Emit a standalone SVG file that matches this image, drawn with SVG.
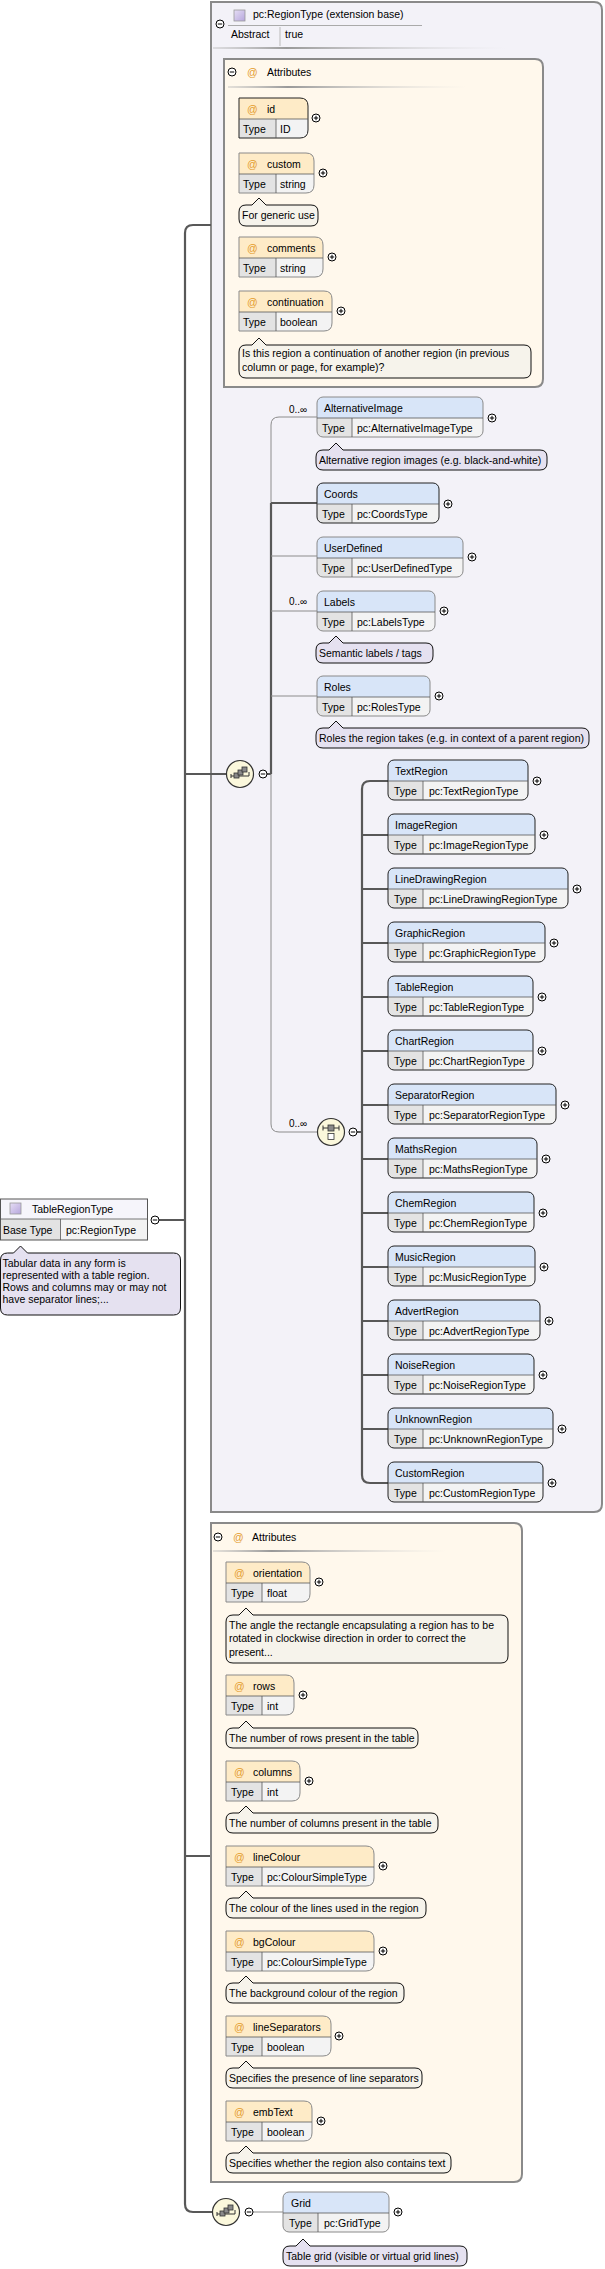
<svg xmlns="http://www.w3.org/2000/svg" width="605" height="2269" viewBox="0 0 605 2269">
<defs>
<linearGradient id="fade" x1="0" x2="1" y1="0" y2="0">
<stop offset="0" stop-color="#bbb" stop-opacity="0.4"/>
<stop offset="0.25" stop-color="#999"/>
<stop offset="1" stop-color="#ddd" stop-opacity="0"/>
</linearGradient>
<linearGradient id="pur" x1="0" x2="1" y1="0" y2="1">
<stop offset="0" stop-color="#e6def5"/>
<stop offset="1" stop-color="#b6a6dc"/>
</linearGradient>
<g id="minus"><circle r="4" fill="#fff" stroke="#000" stroke-width="1"/><path d="M-2.2,0H2.2" stroke="#000" stroke-width="1"/></g>
<g id="plus"><circle r="4" fill="#fff" stroke="#000" stroke-width="1"/><path d="M-2.2,0H2.2M0,-2.2V2.2" stroke="#000" stroke-width="1"/></g>
<g id="seqIcon">
<circle r="13.5" fill="#fbf8dc" stroke="#333" stroke-width="1.2"/>
<path d="M-9,2H9M-9,0V4M9,-2V2" stroke="#333" stroke-width="1" fill="none"/>
<rect x="-6" y="-1" width="5" height="5" fill="#8a8a8a" stroke="#333" stroke-width="0.8"/>
<rect x="-2" y="-4" width="5" height="5" fill="#8a8a8a" stroke="#333" stroke-width="0.8"/>
<rect x="2" y="-7" width="5" height="5" fill="#8a8a8a" stroke="#333" stroke-width="0.8"/>
</g>
<g id="choiceIcon">
<circle r="13.5" fill="#fbf8dc" stroke="#333" stroke-width="1.2"/>
<path d="M-8,-4H8M-8,-6.5V-1.5M8,-6.5V-1.5" stroke="#333" stroke-width="1" fill="none"/>
<rect x="-3" y="-7" width="6" height="6" fill="#8a8a8a" stroke="#333" stroke-width="0.8"/>
<rect x="-3" y="1.5" width="6" height="6" fill="#fff" stroke="#333" stroke-width="0.8"/>
</g>
</defs>
<style>
text{font-family:"Liberation Sans",Arial,sans-serif;font-size:10.5px;fill:#000}
.at{fill:#e49b2c}
.mult{font-size:10px}
.thin{fill:none;stroke:#8c8c8c;stroke-width:1}
.thick{fill:none;stroke:#585858;stroke-width:2.2}
.eh{fill:#d8e5f8}
.th{fill:#f6f5fb}
.tc{fill:#e3e3e3}
.vc{fill:#f3f3f3}
.ah{fill:#feebc7}
.req{fill:none;stroke:#222;stroke-width:1}
.opt{fill:none;stroke:#8a8a8a;stroke-width:1}
.div{fill:none;stroke:#555;stroke-width:0.8}
.ne{fill:#e5e1f0;stroke:#111;stroke-width:1}
.na{fill:#f6f3eb;stroke:#111;stroke-width:1}
.box{stroke:#8a8a8a;stroke-width:2}
</style>

<!-- extension base box -->
<g id="extension">
<path class="box" d="M211,2H594Q602,2 602,10V1504Q602,1512 594,1512H211Z" fill="#f3f2f8"/>
<use href="#minus" x="220" y="24"/>
<rect x="234" y="10" width="11" height="11" fill="url(#pur)" stroke="#999" stroke-width="0.8"/>
<text x="253" y="18">pc:RegionType (extension base)</text>
<path d="M228,25.5H422" stroke="#aaa" stroke-width="1"/>
<text x="231" y="38">Abstract</text>
<path d="M280,27V46" stroke="#bbb" stroke-width="1"/>
<text x="285" y="38">true</text>
<rect x="213" y="47" width="294" height="2" fill="url(#fade)"/>
</g>

<!-- attributes box 1 -->
<g id="attributes1">
<path class="box" d="M224,59H535Q543,59 543,67V379Q543,387 535,387H224Z" fill="#fff8ec"/>
<use href="#minus" x="232" y="72"/>
<text class="at" x="247" y="76">@</text>
<text x="267" y="76">Attributes</text>
<rect x="228" y="86" width="239" height="2" fill="url(#fade)"/>
</g>

<g id="attr-id" transform="translate(239,98)">
<path class="ah" d="M0,0H61Q69,0 69,8V21H0Z"/>
<rect class="tc" x="0" y="21" width="37" height="19"/>
<path class="vc" d="M37,21H69V32Q69,40 61,40H37Z"/>
<path class="req" d="M0,0H61Q69,0 69,8V32Q69,40 61,40H0Z"/>
<path class="div" d="M0,21H69M37,21V40"/>
<text class="at" x="8" y="15">@</text><text x="28" y="15">id</text>
<text x="4" y="35">Type</text><text x="41" y="35">ID</text>
<use href="#plus" x="77" y="20"/>
</g>

<g id="attr-custom" transform="translate(239,153)">
<path class="ah" d="M0,0H67Q75,0 75,8V21H0Z"/>
<rect class="tc" x="0" y="21" width="37" height="19"/>
<path class="vc" d="M37,21H75V32Q75,40 67,40H37Z"/>
<path class="opt" d="M0,0H67Q75,0 75,8V32Q75,40 67,40H0Z"/>
<path class="div" d="M0,21H75M37,21V40"/>
<text class="at" x="8" y="15">@</text><text x="28" y="15">custom</text>
<text x="4" y="35">Type</text><text x="41" y="35">string</text>
<use href="#plus" x="84" y="20"/>
<g transform="translate(0,52)">
<path class="na" d="M7,0H13L20,-7L27,0H72Q79,0 79,7V14Q79,21 72,21H7Q0,21 0,14V7Q0,0 7,0Z"/>
<text x="3" y="14">For generic use</text>
</g>
</g>

<g id="attr-comments" transform="translate(239,237)">
<path class="ah" d="M0,0H76Q84,0 84,8V21H0Z"/>
<rect class="tc" x="0" y="21" width="37" height="19"/>
<path class="vc" d="M37,21H84V32Q84,40 76,40H37Z"/>
<path class="opt" d="M0,0H76Q84,0 84,8V32Q84,40 76,40H0Z"/>
<path class="div" d="M0,21H84M37,21V40"/>
<text class="at" x="8" y="15">@</text><text x="28" y="15">comments</text>
<text x="4" y="35">Type</text><text x="41" y="35">string</text>
<use href="#plus" x="93" y="20"/>
</g>

<g id="attr-continuation" transform="translate(239,291)">
<path class="ah" d="M0,0H85Q93,0 93,8V21H0Z"/>
<rect class="tc" x="0" y="21" width="37" height="19"/>
<path class="vc" d="M37,21H93V32Q93,40 85,40H37Z"/>
<path class="opt" d="M0,0H85Q93,0 93,8V32Q93,40 85,40H0Z"/>
<path class="div" d="M0,21H93M37,21V40"/>
<text class="at" x="8" y="15">@</text><text x="28" y="15">continuation</text>
<text x="4" y="35">Type</text><text x="41" y="35">boolean</text>
<use href="#plus" x="102" y="20"/>
<g transform="translate(0,54)">
<path class="na" d="M7,0H13L20,-7L27,0H285Q292,0 292,7V26Q292,33 285,33H7Q0,33 0,26V7Q0,0 7,0Z"/>
<text x="3" y="12">Is this region a continuation of another region (in previous</text>
<text x="3" y="25.5">column or page, for example)?</text>
</g>
</g>

<!-- connectors -->
<g id="connectors">
<path class="thick" d="M211,225H193Q185,225 185,233V2204Q185,2212 193,2212H212"/>
<path class="thick" d="M159,1220H185M185,774H226M185,1856H211"/>
<path class="thin" d="M317,417H279Q271,417 271,425V503"/>
<path class="thick" d="M271,503V774M267,774H271M271,503H317"/>
<path class="thin" d="M271,774V1124Q271,1132 279,1132H317M271,556H317M271,611H317M271,696H317"/>
<path class="thick" d="M357,1132H362M388,781H370Q362,781 362,789V1475Q362,1483 370,1483H388"/>
<path class="thick" d="M362,835H388M362,889H388M362,943H388M362,997H388M362,1051H388M362,1105H388M362,1159H388M362,1213H388M362,1267H388M362,1321H388M362,1375H388M362,1429H388"/>
<path class="thin" d="M253,2212H283"/>
</g>

<!-- compositors -->
<g id="sequence1"><use href="#seqIcon" x="240" y="774"/><use href="#minus" x="263" y="774"/></g>
<g id="choice1"><use href="#choiceIcon" x="331" y="1132"/><use href="#minus" x="353" y="1132"/><text class="mult" x="289" y="1127">0..∞</text></g>
<g id="sequence2"><use href="#seqIcon" x="226" y="2212"/><use href="#minus" x="249" y="2212"/></g>

<!-- sequence elements -->
<g id="el-AlternativeImage" transform="translate(317,397)">
<rect class="vc" width="166" height="40" rx="6"/>
<path class="eh" d="M0,21V6Q0,0 6,0H160Q166,0 166,6V21Z"/>
<path class="tc" d="M0,21H35V40H6Q0,40 0,34Z"/>
<rect class="opt" width="166" height="40" rx="6"/>
<path class="div" d="M0,21H166M35,21V40"/>
<text x="7" y="15">AlternativeImage</text><text x="5" y="35">Type</text><text x="40" y="35">pc:AlternativeImageType</text>
<use href="#plus" x="175" y="21"/>
<text class="mult" x="-28" y="16">0..∞</text>
<g transform="translate(-1,53)">
<path class="ne" d="M7,0H13L20,-7L27,0H224Q231,0 231,7V13Q231,20 224,20H7Q0,20 0,13V7Q0,0 7,0Z"/>
<text x="3" y="14">Alternative region images (e.g. black-and-white)</text>
</g>
</g>

<g id="el-Coords" transform="translate(317,483)">
<rect class="vc" width="122" height="40" rx="6"/>
<path class="eh" d="M0,21V6Q0,0 6,0H116Q122,0 122,6V21Z"/>
<path class="tc" d="M0,21H35V40H6Q0,40 0,34Z"/>
<rect class="req" width="122" height="40" rx="6"/>
<path class="div" d="M0,21H122M35,21V40"/>
<text x="7" y="15">Coords</text><text x="5" y="35">Type</text><text x="40" y="35">pc:CoordsType</text>
<use href="#plus" x="131" y="21"/>
</g>

<g id="el-UserDefined" transform="translate(317,537)">
<rect class="vc" width="146" height="40" rx="6"/>
<path class="eh" d="M0,21V6Q0,0 6,0H140Q146,0 146,6V21Z"/>
<path class="tc" d="M0,21H35V40H6Q0,40 0,34Z"/>
<rect class="opt" width="146" height="40" rx="6"/>
<path class="div" d="M0,21H146M35,21V40"/>
<text x="7" y="15">UserDefined</text><text x="5" y="35">Type</text><text x="40" y="35">pc:UserDefinedType</text>
<use href="#plus" x="155" y="20"/>
</g>

<g id="el-Labels" transform="translate(317,591)">
<rect class="vc" width="118" height="40" rx="6"/>
<path class="eh" d="M0,21V6Q0,0 6,0H112Q118,0 118,6V21Z"/>
<path class="tc" d="M0,21H35V40H6Q0,40 0,34Z"/>
<rect class="opt" width="118" height="40" rx="6"/>
<path class="div" d="M0,21H118M35,21V40"/>
<text x="7" y="15">Labels</text><text x="5" y="35">Type</text><text x="40" y="35">pc:LabelsType</text>
<use href="#plus" x="127" y="20"/>
<text class="mult" x="-28" y="14">0..∞</text>
<g transform="translate(-1,52)">
<path class="ne" d="M7,0H13L20,-7L27,0H110Q117,0 117,7V13Q117,20 110,20H7Q0,20 0,13V7Q0,0 7,0Z"/>
<text x="3" y="14">Semantic labels / tags</text>
</g>
</g>

<g id="el-Roles" transform="translate(317,676)">
<rect class="vc" width="113" height="40" rx="6"/>
<path class="eh" d="M0,21V6Q0,0 6,0H107Q113,0 113,6V21Z"/>
<path class="tc" d="M0,21H35V40H6Q0,40 0,34Z"/>
<rect class="opt" width="113" height="40" rx="6"/>
<path class="div" d="M0,21H113M35,21V40"/>
<text x="7" y="15">Roles</text><text x="5" y="35">Type</text><text x="40" y="35">pc:RolesType</text>
<use href="#plus" x="122" y="20"/>
<g transform="translate(-1,52)">
<path class="ne" d="M7,0H13L20,-7L27,0H266Q273,0 273,7V13Q273,20 266,20H7Q0,20 0,13V7Q0,0 7,0Z"/>
<text x="3" y="14">Roles the region takes (e.g. in context of a parent region)</text>
</g>
</g>

<!-- choice elements -->
<g id="el-TextRegion" transform="translate(388,760)">
<rect class="vc" width="140" height="40" rx="6"/>
<path class="eh" d="M0,21V6Q0,0 6,0H134Q140,0 140,6V21Z"/>
<path class="tc" d="M0,21H35V40H6Q0,40 0,34Z"/>
<rect class="req" width="140" height="40" rx="6"/>
<path class="div" d="M0,21H140M35,21V40"/>
<text x="7" y="15">TextRegion</text><text x="6" y="35">Type</text><text x="41" y="35">pc:TextRegionType</text>
<use href="#plus" x="149" y="21"/>
</g>

<g id="el-ImageRegion" transform="translate(388,814)">
<rect class="vc" width="147" height="40" rx="6"/>
<path class="eh" d="M0,21V6Q0,0 6,0H141Q147,0 147,6V21Z"/>
<path class="tc" d="M0,21H35V40H6Q0,40 0,34Z"/>
<rect class="req" width="147" height="40" rx="6"/>
<path class="div" d="M0,21H147M35,21V40"/>
<text x="7" y="15">ImageRegion</text><text x="6" y="35">Type</text><text x="41" y="35">pc:ImageRegionType</text>
<use href="#plus" x="156" y="21"/>
</g>

<g id="el-LineDrawingRegion" transform="translate(388,868)">
<rect class="vc" width="180" height="40" rx="6"/>
<path class="eh" d="M0,21V6Q0,0 6,0H174Q180,0 180,6V21Z"/>
<path class="tc" d="M0,21H35V40H6Q0,40 0,34Z"/>
<rect class="req" width="180" height="40" rx="6"/>
<path class="div" d="M0,21H180M35,21V40"/>
<text x="7" y="15">LineDrawingRegion</text><text x="6" y="35">Type</text><text x="41" y="35">pc:LineDrawingRegionType</text>
<use href="#plus" x="189" y="21"/>
</g>

<g id="el-GraphicRegion" transform="translate(388,922)">
<rect class="vc" width="157" height="40" rx="6"/>
<path class="eh" d="M0,21V6Q0,0 6,0H151Q157,0 157,6V21Z"/>
<path class="tc" d="M0,21H35V40H6Q0,40 0,34Z"/>
<rect class="req" width="157" height="40" rx="6"/>
<path class="div" d="M0,21H157M35,21V40"/>
<text x="7" y="15">GraphicRegion</text><text x="6" y="35">Type</text><text x="41" y="35">pc:GraphicRegionType</text>
<use href="#plus" x="166" y="21"/>
</g>

<g id="el-TableRegion" transform="translate(388,976)">
<rect class="vc" width="145" height="40" rx="6"/>
<path class="eh" d="M0,21V6Q0,0 6,0H139Q145,0 145,6V21Z"/>
<path class="tc" d="M0,21H35V40H6Q0,40 0,34Z"/>
<rect class="req" width="145" height="40" rx="6"/>
<path class="div" d="M0,21H145M35,21V40"/>
<text x="7" y="15">TableRegion</text><text x="6" y="35">Type</text><text x="41" y="35">pc:TableRegionType</text>
<use href="#plus" x="154" y="21"/>
</g>

<g id="el-ChartRegion" transform="translate(388,1030)">
<rect class="vc" width="145" height="40" rx="6"/>
<path class="eh" d="M0,21V6Q0,0 6,0H139Q145,0 145,6V21Z"/>
<path class="tc" d="M0,21H35V40H6Q0,40 0,34Z"/>
<rect class="req" width="145" height="40" rx="6"/>
<path class="div" d="M0,21H145M35,21V40"/>
<text x="7" y="15">ChartRegion</text><text x="6" y="35">Type</text><text x="41" y="35">pc:ChartRegionType</text>
<use href="#plus" x="154" y="21"/>
</g>

<g id="el-SeparatorRegion" transform="translate(388,1084)">
<rect class="vc" width="168" height="40" rx="6"/>
<path class="eh" d="M0,21V6Q0,0 6,0H162Q168,0 168,6V21Z"/>
<path class="tc" d="M0,21H35V40H6Q0,40 0,34Z"/>
<rect class="req" width="168" height="40" rx="6"/>
<path class="div" d="M0,21H168M35,21V40"/>
<text x="7" y="15">SeparatorRegion</text><text x="6" y="35">Type</text><text x="41" y="35">pc:SeparatorRegionType</text>
<use href="#plus" x="177" y="21"/>
</g>

<g id="el-MathsRegion" transform="translate(388,1138)">
<rect class="vc" width="149" height="40" rx="6"/>
<path class="eh" d="M0,21V6Q0,0 6,0H143Q149,0 149,6V21Z"/>
<path class="tc" d="M0,21H35V40H6Q0,40 0,34Z"/>
<rect class="req" width="149" height="40" rx="6"/>
<path class="div" d="M0,21H149M35,21V40"/>
<text x="7" y="15">MathsRegion</text><text x="6" y="35">Type</text><text x="41" y="35">pc:MathsRegionType</text>
<use href="#plus" x="158" y="21"/>
</g>

<g id="el-ChemRegion" transform="translate(388,1192)">
<rect class="vc" width="146" height="40" rx="6"/>
<path class="eh" d="M0,21V6Q0,0 6,0H140Q146,0 146,6V21Z"/>
<path class="tc" d="M0,21H35V40H6Q0,40 0,34Z"/>
<rect class="req" width="146" height="40" rx="6"/>
<path class="div" d="M0,21H146M35,21V40"/>
<text x="7" y="15">ChemRegion</text><text x="6" y="35">Type</text><text x="41" y="35">pc:ChemRegionType</text>
<use href="#plus" x="155" y="21"/>
</g>

<g id="el-MusicRegion" transform="translate(388,1246)">
<rect class="vc" width="147" height="40" rx="6"/>
<path class="eh" d="M0,21V6Q0,0 6,0H141Q147,0 147,6V21Z"/>
<path class="tc" d="M0,21H35V40H6Q0,40 0,34Z"/>
<rect class="req" width="147" height="40" rx="6"/>
<path class="div" d="M0,21H147M35,21V40"/>
<text x="7" y="15">MusicRegion</text><text x="6" y="35">Type</text><text x="41" y="35">pc:MusicRegionType</text>
<use href="#plus" x="156" y="21"/>
</g>

<g id="el-AdvertRegion" transform="translate(388,1300)">
<rect class="vc" width="152" height="40" rx="6"/>
<path class="eh" d="M0,21V6Q0,0 6,0H146Q152,0 152,6V21Z"/>
<path class="tc" d="M0,21H35V40H6Q0,40 0,34Z"/>
<rect class="req" width="152" height="40" rx="6"/>
<path class="div" d="M0,21H152M35,21V40"/>
<text x="7" y="15">AdvertRegion</text><text x="6" y="35">Type</text><text x="41" y="35">pc:AdvertRegionType</text>
<use href="#plus" x="161" y="21"/>
</g>

<g id="el-NoiseRegion" transform="translate(388,1354)">
<rect class="vc" width="146" height="40" rx="6"/>
<path class="eh" d="M0,21V6Q0,0 6,0H140Q146,0 146,6V21Z"/>
<path class="tc" d="M0,21H35V40H6Q0,40 0,34Z"/>
<rect class="req" width="146" height="40" rx="6"/>
<path class="div" d="M0,21H146M35,21V40"/>
<text x="7" y="15">NoiseRegion</text><text x="6" y="35">Type</text><text x="41" y="35">pc:NoiseRegionType</text>
<use href="#plus" x="155" y="21"/>
</g>

<g id="el-UnknownRegion" transform="translate(388,1408)">
<rect class="vc" width="165" height="40" rx="6"/>
<path class="eh" d="M0,21V6Q0,0 6,0H159Q165,0 165,6V21Z"/>
<path class="tc" d="M0,21H35V40H6Q0,40 0,34Z"/>
<rect class="req" width="165" height="40" rx="6"/>
<path class="div" d="M0,21H165M35,21V40"/>
<text x="7" y="15">UnknownRegion</text><text x="6" y="35">Type</text><text x="41" y="35">pc:UnknownRegionType</text>
<use href="#plus" x="174" y="21"/>
</g>

<g id="el-CustomRegion" transform="translate(388,1462)">
<rect class="vc" width="155" height="40" rx="6"/>
<path class="eh" d="M0,21V6Q0,0 6,0H149Q155,0 155,6V21Z"/>
<path class="tc" d="M0,21H35V40H6Q0,40 0,34Z"/>
<rect class="req" width="155" height="40" rx="6"/>
<path class="div" d="M0,21H155M35,21V40"/>
<text x="7" y="15">CustomRegion</text><text x="6" y="35">Type</text><text x="41" y="35">pc:CustomRegionType</text>
<use href="#plus" x="164" y="21"/>
</g>

<!-- TableRegionType root -->
<g id="TableRegionType" transform="translate(0,1199)">
<rect class="th" x="0.5" y="0" width="147" height="20"/>
<rect class="tc" x="0.5" y="20" width="60" height="21"/>
<rect class="vc" x="60.5" y="20" width="87" height="21"/>
<rect x="0.5" y="0" width="147" height="41" fill="none" stroke="#555" stroke-width="1"/>
<path class="div" d="M0,20H147.5M60.5,20V41"/>
<rect x="10" y="4" width="11" height="11" fill="url(#pur)" stroke="#999" stroke-width="0.8"/>
<text x="32" y="14">TableRegionType</text>
<text x="3" y="35">Base Type</text><text x="66" y="35">pc:RegionType</text>
<use href="#minus" x="155" y="21"/>
<g transform="translate(0.5,54)">
<path class="ne" d="M7,0H13L20,-7L27,0H173Q180,0 180,7V55Q180,62 173,62H7Q0,62 0,55V7Q0,0 7,0Z"/>
<text x="2" y="14">Tabular data in any form is</text>
<text x="2" y="26">represented with a table region.</text>
<text x="2" y="38">Rows and columns may or may not</text>
<text x="2" y="50">have separator lines;...</text>
</g>
</g>

<!-- attributes box 2 -->
<g id="attributes2">
<path class="box" d="M211,1523H514Q522,1523 522,1531V2174Q522,2182 514,2182H211Z" fill="#fff8ec"/>
<use href="#minus" x="218" y="1537"/>
<text class="at" x="233" y="1541">@</text>
<text x="252" y="1541">Attributes</text>
<rect x="213" y="1550" width="234" height="2" fill="url(#fade)"/>
</g>

<g id="attr-orientation" transform="translate(226,1562)">
<path class="ah" d="M0,0H76Q84,0 84,8V21H0Z"/>
<rect class="tc" x="0" y="21" width="36" height="19"/>
<path class="vc" d="M36,21H84V32Q84,40 76,40H36Z"/>
<path class="opt" d="M0,0H76Q84,0 84,8V32Q84,40 76,40H0Z"/>
<path class="div" d="M0,21H84M36,21V40"/>
<text class="at" x="8" y="15">@</text><text x="27" y="15">orientation</text>
<text x="5" y="35">Type</text><text x="41" y="35">float</text>
<use href="#plus" x="93" y="20"/>
<g transform="translate(0,53)">
<path class="na" d="M7,0H13L20,-7L27,0H275Q282,0 282,7V41Q282,48 275,48H7Q0,48 0,41V7Q0,0 7,0Z"/>
<text x="3" y="14">The angle the rectangle encapsulating a region has to be</text>
<text x="3" y="27">rotated in clockwise direction in order to correct the</text>
<text x="3" y="40.5">present...</text>
</g>
</g>

<g id="attr-rows" transform="translate(226,1675)">
<path class="ah" d="M0,0H60Q68,0 68,8V21H0Z"/>
<rect class="tc" x="0" y="21" width="36" height="19"/>
<path class="vc" d="M36,21H68V32Q68,40 60,40H36Z"/>
<path class="opt" d="M0,0H60Q68,0 68,8V32Q68,40 60,40H0Z"/>
<path class="div" d="M0,21H68M36,21V40"/>
<text class="at" x="8" y="15">@</text><text x="27" y="15">rows</text>
<text x="5" y="35">Type</text><text x="41" y="35">int</text>
<use href="#plus" x="77" y="20"/>
<g transform="translate(0,53)">
<path class="na" d="M7,0H13L20,-7L27,0H185Q192,0 192,7V13Q192,20 185,20H7Q0,20 0,13V7Q0,0 7,0Z"/>
<text x="3" y="14">The number of rows present in the table</text>
</g>
</g>

<g id="attr-columns" transform="translate(226,1761)">
<path class="ah" d="M0,0H66Q74,0 74,8V21H0Z"/>
<rect class="tc" x="0" y="21" width="36" height="19"/>
<path class="vc" d="M36,21H74V32Q74,40 66,40H36Z"/>
<path class="opt" d="M0,0H66Q74,0 74,8V32Q74,40 66,40H0Z"/>
<path class="div" d="M0,21H74M36,21V40"/>
<text class="at" x="8" y="15">@</text><text x="27" y="15">columns</text>
<text x="5" y="35">Type</text><text x="41" y="35">int</text>
<use href="#plus" x="83" y="20"/>
<g transform="translate(0,52)">
<path class="na" d="M7,0H13L20,-7L27,0H205Q212,0 212,7V13Q212,20 205,20H7Q0,20 0,13V7Q0,0 7,0Z"/>
<text x="3" y="14">The number of columns present in the table</text>
</g>
</g>

<g id="attr-lineColour" transform="translate(226,1846)">
<path class="ah" d="M0,0H140Q148,0 148,8V21H0Z"/>
<rect class="tc" x="0" y="21" width="36" height="19"/>
<path class="vc" d="M36,21H148V32Q148,40 140,40H36Z"/>
<path class="opt" d="M0,0H140Q148,0 148,8V32Q148,40 140,40H0Z"/>
<path class="div" d="M0,21H148M36,21V40"/>
<text class="at" x="8" y="15">@</text><text x="27" y="15">lineColour</text>
<text x="5" y="35">Type</text><text x="41" y="35">pc:ColourSimpleType</text>
<use href="#plus" x="157" y="20"/>
<g transform="translate(0,52)">
<path class="na" d="M7,0H13L20,-7L27,0H193Q200,0 200,7V13Q200,20 193,20H7Q0,20 0,13V7Q0,0 7,0Z"/>
<text x="3" y="14">The colour of the lines used in the region</text>
</g>
</g>

<g id="attr-bgColour" transform="translate(226,1931)">
<path class="ah" d="M0,0H140Q148,0 148,8V21H0Z"/>
<rect class="tc" x="0" y="21" width="36" height="19"/>
<path class="vc" d="M36,21H148V32Q148,40 140,40H36Z"/>
<path class="opt" d="M0,0H140Q148,0 148,8V32Q148,40 140,40H0Z"/>
<path class="div" d="M0,21H148M36,21V40"/>
<text class="at" x="8" y="15">@</text><text x="27" y="15">bgColour</text>
<text x="5" y="35">Type</text><text x="41" y="35">pc:ColourSimpleType</text>
<use href="#plus" x="157" y="20"/>
<g transform="translate(0,52)">
<path class="na" d="M7,0H13L20,-7L27,0H171Q178,0 178,7V13Q178,20 171,20H7Q0,20 0,13V7Q0,0 7,0Z"/>
<text x="3" y="14">The background colour of the region</text>
</g>
</g>

<g id="attr-lineSeparators" transform="translate(226,2016)">
<path class="ah" d="M0,0H97Q105,0 105,8V21H0Z"/>
<rect class="tc" x="0" y="21" width="36" height="19"/>
<path class="vc" d="M36,21H105V32Q105,40 97,40H36Z"/>
<path class="opt" d="M0,0H97Q105,0 105,8V32Q105,40 97,40H0Z"/>
<path class="div" d="M0,21H105M36,21V40"/>
<text class="at" x="8" y="15">@</text><text x="27" y="15">lineSeparators</text>
<text x="5" y="35">Type</text><text x="41" y="35">boolean</text>
<use href="#plus" x="113" y="20"/>
<g transform="translate(0,52)">
<path class="na" d="M7,0H13L20,-7L27,0H189Q196,0 196,7V13Q196,20 189,20H7Q0,20 0,13V7Q0,0 7,0Z"/>
<text x="3" y="14">Specifies the presence of line separators</text>
</g>
</g>

<g id="attr-embText" transform="translate(226,2101)">
<path class="ah" d="M0,0H78Q86,0 86,8V21H0Z"/>
<rect class="tc" x="0" y="21" width="36" height="19"/>
<path class="vc" d="M36,21H86V32Q86,40 78,40H36Z"/>
<path class="opt" d="M0,0H78Q86,0 86,8V32Q86,40 78,40H0Z"/>
<path class="div" d="M0,21H86M36,21V40"/>
<text class="at" x="8" y="15">@</text><text x="27" y="15">embText</text>
<text x="5" y="35">Type</text><text x="41" y="35">boolean</text>
<use href="#plus" x="95" y="20"/>
<g transform="translate(0,52)">
<path class="na" d="M7,0H13L20,-7L27,0H218Q225,0 225,7V13Q225,20 218,20H7Q0,20 0,13V7Q0,0 7,0Z"/>
<text x="3" y="14">Specifies whether the region also contains text</text>
</g>
</g>

<!-- Grid -->
<g id="el-Grid" transform="translate(283,2192)">
<rect class="vc" width="106" height="40" rx="6"/>
<path class="eh" d="M0,21V6Q0,0 6,0H100Q106,0 106,6V21Z"/>
<path class="tc" d="M0,21H35V40H6Q0,40 0,34Z"/>
<rect class="opt" width="106" height="40" rx="6"/>
<path class="div" d="M0,21H106M35,21V40"/>
<text x="8" y="15">Grid</text><text x="6" y="35">Type</text><text x="41" y="35">pc:GridType</text>
<use href="#plus" x="115" y="20"/>
<g transform="translate(0,54)">
<path class="ne" d="M7,0H13L20,-7L27,0H177Q184,0 184,7V13Q184,20 177,20H7Q0,20 0,13V7Q0,0 7,0Z"/>
<text x="3" y="14">Table grid (visible or virtual grid lines)</text>
</g>
</g>
</svg>
